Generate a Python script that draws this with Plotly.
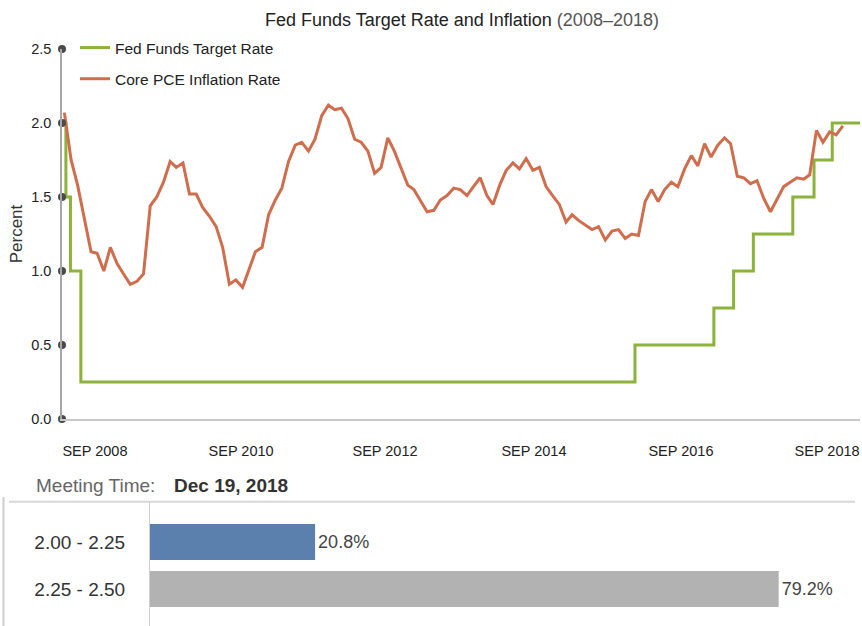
import plotly.graph_objects as go
import pandas as pd

# --- data ---
# Fed funds target rate (upper bound), value in force from each date
fed_dates = ["2008-09-20", "2008-10-08", "2008-10-29", "2008-12-16", "2015-12-16",
             "2016-12-14", "2017-03-15", "2017-06-14", "2017-12-13", "2018-03-21",
             "2018-06-13", "2018-10-19"]
fed_rate = [2.0, 1.5, 1.0, 0.25, 0.5, 0.75, 1.0, 1.25, 1.5, 1.75, 2.0, 2.0]

# Core PCE inflation, monthly from Oct 2008
pce_start = "2008-10-01"
pce_rate = [2.07, 1.75, 1.58, 1.36, 1.13, 1.12, 1.00, 1.16, 1.05, 0.98, 0.91, 0.93,
            0.98, 1.44, 1.50, 1.60, 1.74, 1.70, 1.73, 1.52, 1.52, 1.43, 1.37, 1.30,
            1.16, 0.91, 0.94, 0.89, 1.02, 1.13, 1.16,
            1.38, 1.48, 1.56, 1.74, 1.85, 1.87, 1.81, 1.89, 2.05, 2.12, 2.09, 2.10,
            2.03, 1.89, 1.87, 1.81, 1.66, 1.70, 1.90, 1.81, 1.70, 1.58, 1.55, 1.47,
            1.40, 1.41, 1.48, 1.51, 1.56, 1.55,
            1.51, 1.57, 1.63, 1.51, 1.45, 1.58, 1.68, 1.73, 1.69, 1.76, 1.68, 1.70,
            1.57, 1.51, 1.45, 1.33, 1.38, 1.34, 1.31, 1.28, 1.30, 1.21, 1.27, 1.28,
            1.22, 1.25, 1.24, 1.47, 1.55, 1.47, 1.55,
            1.60, 1.57, 1.69, 1.78, 1.71, 1.86, 1.77, 1.85, 1.90, 1.86, 1.64, 1.63,
            1.59, 1.61, 1.49, 1.40, 1.48, 1.57, 1.60, 1.63, 1.62, 1.65, 1.95, 1.87,
            1.94, 1.92, 1.98]
pce_dates = pd.date_range(pce_start, periods=len(pce_rate), freq="MS")

x_ticks = ["2009-02-19", "2010-12-25", "2012-10-19", "2014-09-06", "2016-07-15", "2018-05-20"]
x_ticktext = ["SEP 2008", "SEP 2010", "SEP 2012", "SEP 2014", "SEP 2016", "SEP 2018"]
y_ticks = [0.0, 0.5, 1.0, 1.5, 2.0, 2.5]

# target rate probabilities for the Dec 19, 2018 meeting
target_ranges = ["2.00 - 2.25", "2.25 - 2.50"]
probabilities = [20.8, 79.2]
bar_colors = ["#5b80ad", "#b2b2b2"]

# --- helpers ---
W, H = 862, 626
SANS = "Liberation Sans, Arial, sans-serif"

def px_x(p):
    return p / W

def px_y(p):
    return 1 - p / H

GREEN = "#8cb23c"
ORANGE = "#cf6d4c"

fig = go.Figure()

fig.add_trace(go.Scatter(
    x=fed_dates, y=fed_rate, mode="lines", line_shape="hv",
    name="Fed Funds Target Rate", legendgroup="fed",
    line=dict(color=GREEN, width=3)
))
fig.add_trace(go.Scatter(
    x=pce_dates, y=pce_rate, mode="lines",
    name="Core PCE Inflation Rate", legendgroup="pce",
    line=dict(color=ORANGE, width=3)
))
# dots on the y axis at every tick
fig.add_trace(go.Scatter(
    x=[fed_dates[0]] * len(y_ticks), y=y_ticks, mode="markers",
    marker=dict(size=8, color="#4a4a4a"), cliponaxis=False,
    showlegend=False, hoverinfo="skip"
))

# bottom probability bars
fig.add_trace(go.Bar(
    x=probabilities, y=target_ranges, orientation="h",
    marker=dict(color=bar_colors, line_width=0),
    text=[f"{p}%" for p in probabilities], textposition="outside",
    textfont=dict(family=SANS, size=18, color="#444"),
    width=0.766, cliponaxis=False, showlegend=False,
    xaxis="x2", yaxis="y2"
))

fig.update_layout(
    template="none",
    width=W, height=H,
    margin=dict(l=0, r=0, t=0, b=0, pad=0),
    paper_bgcolor="white", plot_bgcolor="white",
    font=dict(family=SANS, color="#222"),
    legend=dict(
        x=px_x(75), y=px_y(31), xanchor="left", yanchor="top",
        font=dict(family=SANS, size=15.5, color="#222"),
        bgcolor="rgba(0,0,0,0)", tracegroupgap=8, itemwidth=30
    ),
    xaxis=dict(
        domain=[px_x(62), px_x(860)], type="date",
        range=[fed_dates[0], fed_dates[-1]],
        showline=True, linecolor="#c8c8c8", linewidth=2,
        showgrid=False, zeroline=False, automargin=False,
        tickvals=x_ticks, ticktext=x_ticktext,
        ticks="outside", ticklen=18, tickcolor="rgba(0,0,0,0)",
        ticklabeloverflow="allow",
        tickfont=dict(family=SANS, size=14.5, color="#222"),
        anchor="y"
    ),
    yaxis=dict(
        domain=[px_y(419), px_y(49)], range=[0, 2.5],
        tickvals=y_ticks, tickformat=".1f",
        showline=True, linecolor="#a6a6a6", linewidth=1.5,
        showgrid=False, zeroline=False, automargin=False,
        ticks="outside", ticklen=6, tickcolor="rgba(0,0,0,0)",
        tickfont=dict(family=SANS, size=14.5, color="#222"),
        title=dict(text="Percent", standoff=4,
                   font=dict(family=SANS, size=17, color="#333")),
        anchor="x"
    ),
    xaxis2=dict(
        domain=[px_x(150), 1], range=[0, 89.7],
        visible=False, automargin=False, anchor="y2"
    ),
    yaxis2=dict(
        domain=[0, px_y(501.7)], type="category",
        categoryorder="array", categoryarray=target_ranges,
        range=[1.787, -0.857],
        showline=True, linecolor="#cfcfcf", linewidth=1,
        showgrid=False, zeroline=False, automargin=False,
        ticks="outside", ticklen=20, tickcolor="rgba(0,0,0,0)",
        tickfont=dict(family=SANS, size=19, color="#333"),
        anchor="x2"
    ),
    shapes=[
        dict(type="line", xref="paper", yref="paper",
             x0=px_x(9), x1=px_x(855), y0=px_y(501.7), y1=px_y(501.7),
             line=dict(color="#d6d6d6", width=2)),
        dict(type="line", xref="paper", yref="paper",
             x0=px_x(3.5), x1=px_x(3.5), y0=px_y(497), y1=0,
             line=dict(color="#cfcfcf", width=2)),
    ],
    annotations=[
        dict(text="Fed Funds Target Rate and Inflation <span style='color:#555'>(2008–2018)</span>",
             x=px_x(462.5), y=px_y(20), xref="paper", yref="paper",
             xanchor="center", yanchor="middle", showarrow=False,
             font=dict(family=SANS, size=18, color="#222")),
        dict(text="Meeting Time:", x=px_x(34), y=px_y(485), xref="paper", yref="paper",
             xanchor="left", yanchor="middle", showarrow=False,
             font=dict(family=SANS, size=19, color="#666")),
        dict(text="<b>Dec 19, 2018</b>", x=px_x(172), y=px_y(485), xref="paper", yref="paper",
             xanchor="left", yanchor="middle", showarrow=False,
             font=dict(family=SANS, size=19, color="#333")),
    ],
)

fig.write_html("out.html", config={"displayModeBar": False},
               post_script="document.body.style.margin='0px';")
